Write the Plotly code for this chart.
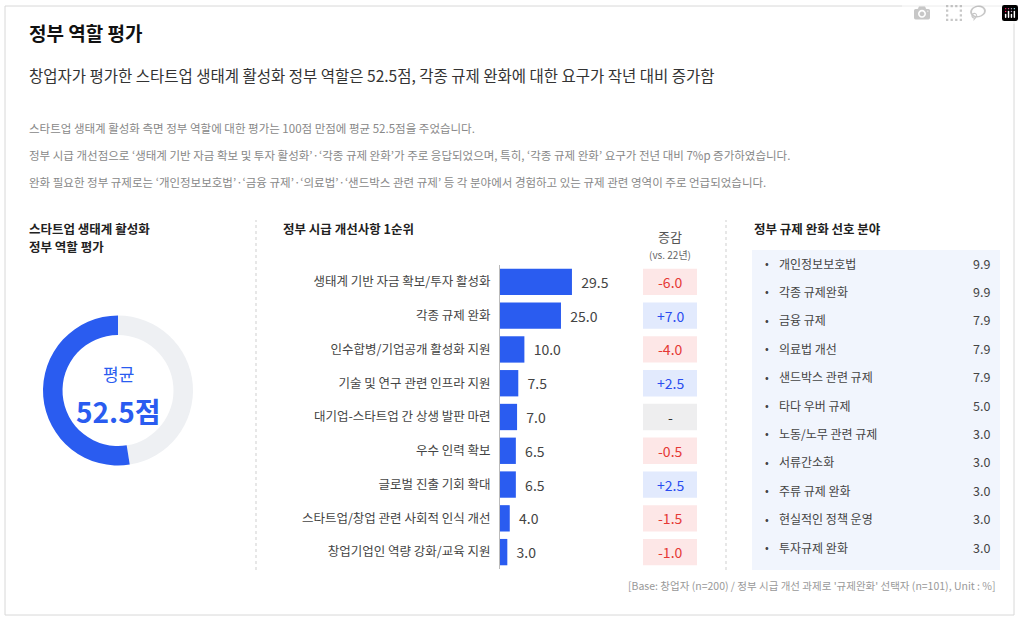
import plotly.graph_objects as go

W, H = 1024, 621
FONT = "Noto Sans CJK KR"
BLUE = "#2a5cf0"

score = 52.5
items = ["생태계 기반 자금 확보/투자 활성화", "각종 규제 완화", "인수합병/기업공개 활성화 지원",
         "기술 및 연구 관련 인프라 지원", "대기업-스타트업 간 상생 발판 마련", "우수 인력 확보",
         "글로벌 진출 기회 확대", "스타트업/창업 관련 사회적 인식 개선", "창업기업인 역량 강화/교육 지원"]
values = [29.5, 25.0, 10.0, 7.5, 7.0, 6.5, 6.5, 4.0, 3.0]
changes = [-6.0, 7.0, -4.0, 2.5, 0.0, -0.5, 2.5, -1.5, -1.0]
reg_items = ["개인정보보호법", "각종 규제완화", "금융 규제", "의료법 개선", "샌드박스 관련 규제",
             "타다 우버 규제", "노동/노무 관련 규제", "서류간소화", "주류 규제 완화",
             "현실적인 정책 운영", "투자규제 완화"]
reg_values = [9.9, 9.9, 7.9, 7.9, 7.9, 5.0, 3.0, 3.0, 3.0, 3.0, 3.0]

def px(x): return x / W
def py(y): return 1 - y / H

fig = go.Figure()

# donut
fig.add_trace(go.Pie(values=[100 - score, score], hole=0.74, sort=False, direction="clockwise",
                     rotation=0, marker=dict(colors=["#eef0f3", BLUE], line=dict(width=0)),
                     textinfo="none", hoverinfo="skip", showlegend=False,
                     domain=dict(x=[px(43), px(193)], y=[py(466), py(315)])))

# bars
fig.add_trace(go.Bar(y=items, x=values, orientation="h", marker=dict(color=BLUE, line=dict(width=0)),
                     width=0.78, text=[f"  {v:.1f}" for v in values], textposition="outside",
                     textfont=dict(size=14, color="#444", family=FONT), cliponaxis=False,
                     hoverinfo="skip", showlegend=False))

shapes = [dict(type="rect", xref="paper", yref="paper", x0=px(5), x1=px(1014), y0=py(615), y1=py(6),
               line=dict(color="#d8d8d8", width=1), fillcolor="rgba(0,0,0,0)", layer="below"),
          dict(type="line", xref="paper", yref="paper", x0=px(256), x1=px(256), y0=py(570), y1=py(220),
               line=dict(color="#cfcfcf", width=1, dash="dot")),
          dict(type="line", xref="paper", yref="paper", x0=px(726), x1=px(726), y0=py(570), y1=py(220),
               line=dict(color="#cfcfcf", width=1, dash="dot")),
          dict(type="rect", xref="paper", yref="paper", x0=px(752), x1=px(1000), y0=py(570), y1=py(250),
               line=dict(width=0), fillcolor="#f1f5fd", layer="below")]

anns = []
def txt(x, y, s, size=12, color="#333", anchor="left", bold=False, yref="paper"):
    anns.append(dict(x=px(x), y=(py(y) if yref == "paper" else y), xref="paper", yref=yref,
                     text=(f"<b>{s}</b>" if bold else s), showarrow=False, xanchor=anchor, yanchor="middle",
                     font=dict(size=size, color=color, family=FONT)))

txt(27, 32, "정부 역할 평가", 19, "#111", bold=True)
txt(27, 75, "창업자가 평가한 스타트업 생태계 활성화 정부 역할은 52.5점, 각종 규제 완화에 대한 요구가 작년 대비 증가함", 15.5, "#333")
txt(27, 128, "스타트업 생태계 활성화 측면 정부 역할에 대한 평가는 100점 만점에 평균 52.5점을 주었습니다.", 11.5, "#888")
txt(27, 155, "정부 시급 개선점으로 ‘생태계 기반 자금 확보 및 투자 활성화’·‘각종 규제 완화’가 주로 응답되었으며, 특히, ‘각종 규제 완화’ 요구가 전년 대비 7%p 증가하였습니다.", 11.5, "#888")
txt(27, 182, "완화 필요한 정부 규제로는 ‘개인정보보호법’·‘금융 규제’·‘의료법’·‘샌드박스 관련 규제’ 등 각 분야에서 경험하고 있는 규제 관련 영역이 주로 언급되었습니다.", 11.5, "#888")
txt(27, 228, "스타트업 생태계 활성화", 12.5, "#222", bold=True)
txt(27, 246, "정부 역할 평가", 12.5, "#222", bold=True)
txt(281, 228, "정부 시급 개선사항 1순위", 12.5, "#222", bold=True)
txt(670, 237, "증감", 13, "#555", "center")
txt(670, 254, "(vs. 22년)", 10, "#666", "center")
txt(752, 229, "정부 규제 완화 선호 분야", 12.5, "#222", bold=True)
txt(118, 373, "평균", 17, BLUE, "center")
txt(118, 411, "52.5점", 28, BLUE, "center", bold=True)
txt(998, 585, "[Base: 창업자 (n=200) / 정부 시급 개선 과제로 '규제완화' 선택자 (n=101), Unit : %]", 10.5, "#999", "right")

for i, c in enumerate(changes):
    if c > 0:
        fill, col, s = "#e2eafd", "#2a4df0", f"+{c:.1f}"
    elif c < 0:
        fill, col, s = "#fde7e7", "#e53935", f"{c:.1f}"
    else:
        fill, col, s = "#eeeeef", "#333", "-"
    shapes.append(dict(type="rect", xref="paper", yref="y", x0=px(643), x1=px(697), y0=i - 0.39, y1=i + 0.39,
                       line=dict(width=0), fillcolor=fill, layer="below"))
    anns.append(dict(x=px(670), y=i, xref="paper", yref="y", text=s, showarrow=False,
                     font=dict(size=14, color=col, family=FONT)))

for i, (n, v) in enumerate(zip(reg_items, reg_values)):
    y = 263 + i * 28.4
    txt(767, y, "•", 11, "#444", "center")
    txt(777, y, n, 12, "#444")
    txt(992, y, f"{v:.1f}", 12.5, "#444", "right")

fig.update_layout(
    width=W, height=H, margin=dict(l=0, r=0, t=0, b=0), paper_bgcolor="white", plot_bgcolor="white",
    font=dict(family=FONT), shapes=shapes, annotations=anns, bargap=0.2,
    xaxis=dict(domain=[px(500), px(640)], range=[0, 57.4], visible=False, fixedrange=True),
    yaxis=dict(domain=[py(569), py(265)], autorange=False, range=[8.5, -0.5], showline=True,
               linecolor="#bbb", linewidth=1, ticks="", showgrid=False, ticklabelstandoff=6,
               tickfont=dict(size=12.5, color="#444", family=FONT), fixedrange=True),
)
fig.write_html("out.html")
with open("out.html", encoding="utf-8") as f:
    html = f.read()
html = html.replace("<head>", "<head><style>html,body{margin:0;padding:0;overflow:hidden}</style>", 1)
with open("out.html", "w", encoding="utf-8") as f:
    f.write(html)
